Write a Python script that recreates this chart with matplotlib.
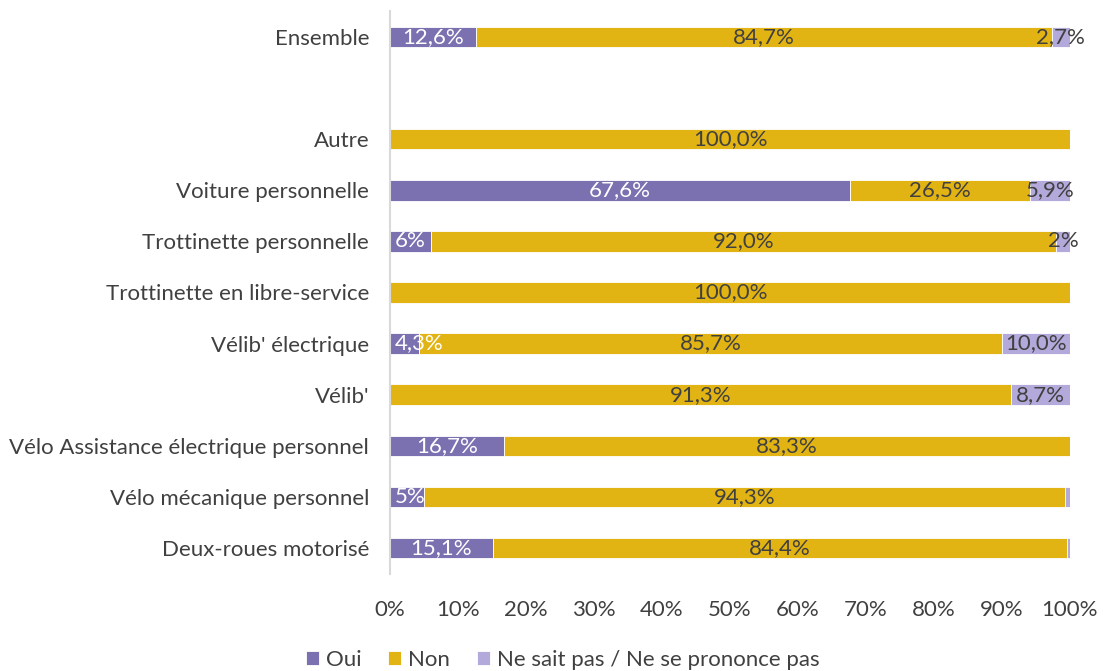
import numpy as np
import matplotlib.pyplot as plt

plt.rcParams['font.family'] = ['Lato', 'DejaVu Sans']

categories = ["Ensemble", "", "Autre", "Voiture personnelle", "Trottinette personnelle",
              "Trottinette en libre-service", "Vélib' électrique", "Vélib'",
              "Vélo Assistance électrique personnel", "Vélo mécanique personnel",
              "Deux-roues motorisé"]
oui = [12.6, 0, 0, 67.6, 6.0, 0, 4.3, 0, 16.7, 5.0, 15.1]
non = [84.7, 0, 100.0, 26.5, 92.0, 100.0, 85.7, 91.3, 83.3, 94.3, 84.4]
nsp = [2.7, 0, 0, 5.9, 2.0, 0, 10.0, 8.7, 0, 0.7, 0.5]
oui_labels = ["12,6%", "", "", "67,6%", "6%", "", "4,3%", "", "16,7%", "5%", "15,1%"]
non_labels = ["84,7%", "", "100,0%", "26,5%", "92,0%", "100,0%", "85,7%", "91,3%", "83,3%", "94,3%", "84,4%"]
nsp_labels = ["2,7%", "", "", "5,9%", "2%", "", "10,0%", "8,7%", "", "", ""]
series = ["Oui", "Non", "Ne sait pas / Ne se prononce pas"]

colors = ["#7B70B0", "#E2B413", "#B3A9DA"]
text_colors = ["white", "#404040", "#404040"]
fs = 16

fig = plt.figure(figsize=(11.03, 6.71), dpi=100)
ax = fig.add_axes([0.3536, 0.1453, 0.6164, 0.8376])

y = np.arange(len(categories))
left = np.zeros(len(categories))
for vals, labs, col, tcol, name in zip([oui, non, nsp], [oui_labels, non_labels, nsp_labels],
                                       colors, text_colors, series):
    vals = np.array(vals)
    ax.barh(y, vals, left=left, height=0.4, color=col, edgecolor="white",
            linewidth=0.6, label=name)
    for i, (v, lab) in enumerate(zip(vals, labs)):
        if lab:
            cx = left[i] + v / 2
            ha = "center"
            if left[i] == 0 and v < 6:
                # small first segment: label starts at the axis
                cx, ha = 0.7, "left"
            ax.text(cx, y[i], lab, ha=ha, va="center", color=tcol, fontsize=fs)
    left += vals

ax.set_xlim(0, 100)
ax.set_ylim(len(categories) - 0.5, -0.5)
ax.set_yticks(y)
ax.set_yticklabels(categories, fontsize=fs, color="#404040")
ax.set_xticks(np.arange(0, 101, 10))
ax.set_xticklabels([f"{t}%" for t in range(0, 101, 10)], fontsize=fs, color="#404040")
ax.tick_params(axis="both", length=0)
ax.tick_params(axis="x", pad=19)
ax.tick_params(axis="y", pad=15)
for s in ["top", "right", "bottom"]:
    ax.spines[s].set_visible(False)
ax.spines["left"].set_color("#D9D9D9")
ax.spines["left"].set_linewidth(1.5)

fig.legend(loc="lower center", bbox_to_anchor=(0.51, -0.028), ncol=3, frameon=False,
           fontsize=fs, handlelength=0.6, handleheight=0.6, handletextpad=0.3,
           columnspacing=1.2, labelcolor="#404040")

fig.savefig("out.png", dpi=100)
